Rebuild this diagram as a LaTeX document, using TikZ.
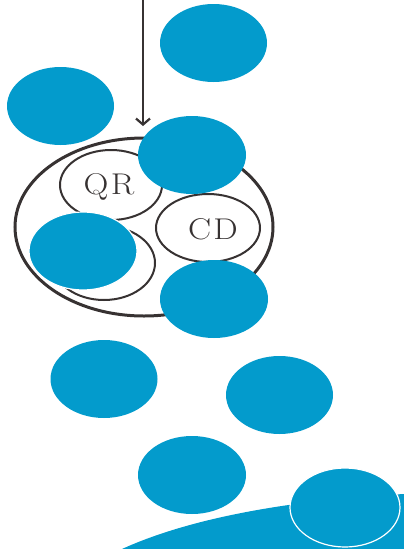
\documentclass[tikz,border=0pt]{standalone}
\usetikzlibrary{arrows.meta}
\usepackage{graphicx}
\definecolor{blob}{RGB}{3,155,204}
\definecolor{ink}{RGB}{55,50,50}
\begin{document}
\begin{tikzpicture}[x=1pt,y=-1pt,
  rimblob/.style={fill=blob,draw=white,line width=1.2pt},
  ring/.style={draw=ink,line width=2pt},
  bigring/.style={draw=ink,line width=3pt},
  lab/.style={font=\fontsize{30}{36}\selectfont,text=ink}]
\useasboundingbox (0,0) rectangle (404,549);
% diagram
\coordinate (top) at (143,0);
\coordinate (tip) at (143,126);
\draw[ink,line width=2.2pt,-{Straight Barb[length=6pt,width=14pt]}] (top) -- (tip);
\draw[bigring] (144,227) ellipse [x radius=129,y radius=89];
\draw[ring] (111,185) ellipse [x radius=51,y radius=35];
\node[lab] (qr) at (109,187) {\scalebox{1.15}[1]{Q\kern2pt R}};
\draw[ring] (208,228) ellipse [x radius=52,y radius=34];
\node[lab] (cd) at (213,229) {\scalebox{1.15}[1]{C\kern2pt D}};
\draw[ring] (104,263) ellipse [x radius=51,y radius=37];
% blue overlays
\fill[blob] (122,549) .. controls (190,518) and (290,500) .. (404,494) -- (404,549) -- cycle;
\fill[blob] (213.5,43) ellipse [x radius=53.5,y radius=39];
\fill[blob] (60.5,106) ellipse [x radius=53.5,y radius=39];
\fill[blob] (192,155) ellipse [x radius=54,y radius=39];
\filldraw[rimblob] (83,251) ellipse [x radius=54,y radius=39];
\fill[blob] (214,299) ellipse [x radius=54,y radius=39];
\fill[blob] (104,379) ellipse [x radius=53.5,y radius=39];
\fill[blob] (279.5,395) ellipse [x radius=53.5,y radius=39];
\fill[blob] (192,475) ellipse [x radius=54,y radius=39];
\filldraw[rimblob] (345,507.5) ellipse [x radius=55,y radius=39.5];
\end{tikzpicture}
\end{document}
